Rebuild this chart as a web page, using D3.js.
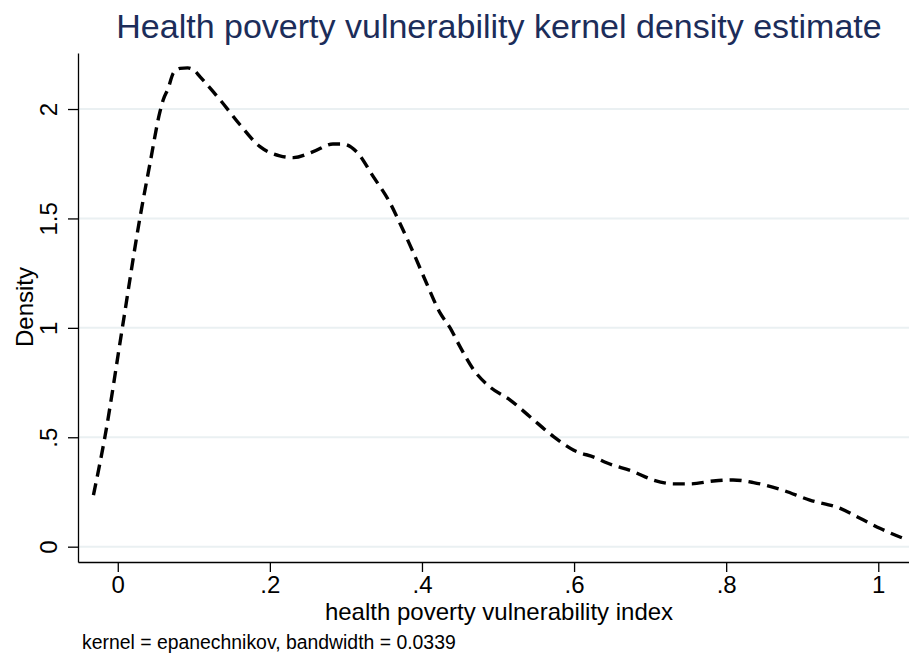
<!DOCTYPE html>
<html>
<head>
<meta charset="utf-8">
<script src="https://cdn.jsdelivr.net/npm/d3@7"></script>
<style>
  html, body { margin: 0; padding: 0; background: #ffffff; }
  svg { display: block; font-family: "Liberation Sans", Arial, Helvetica, sans-serif; }
</style>
</head>
<body>
<svg id="chart" width="909" height="653"></svg>
<script>
// ---- data ----
const xValues = [-0.032, -0.017, 0.006, 0.029, 0.0423, 0.0555, 0.0598, 0.0664, 0.073, 0.0818, 0.092, 0.1, 0.108, 0.135, 0.161, 0.187, 0.213, 0.231, 0.257, 0.283, 0.296, 0.314, 0.336, 0.358, 0.371, 0.389, 0.406, 0.424, 0.437, 0.45, 0.468, 0.489, 0.516, 0.542, 0.573, 0.599, 0.63, 0.641, 0.678, 0.704, 0.731, 0.752, 0.783, 0.809, 0.836, 0.871, 0.91, 0.95, 0.976, 1.002, 1.033];
const densityValues = [0.236, 0.5, 1.0, 1.5, 1.75, 1.988, 2.042, 2.095, 2.164, 2.186, 2.188, 2.178, 2.148, 2.04, 1.927, 1.828, 1.786, 1.778, 1.805, 1.84, 1.84, 1.805, 1.691, 1.571, 1.478, 1.341, 1.204, 1.067, 1.0, 0.914, 0.808, 0.731, 0.670, 0.594, 0.503, 0.442, 0.404, 0.386, 0.343, 0.305, 0.287, 0.287, 0.300, 0.305, 0.293, 0.262, 0.213, 0.175, 0.130, 0.084, 0.038];
const xTicks = [0, 0.2, 0.4, 0.6, 0.8, 1];
const xTickLabels = ["0", ".2", ".4", ".6", ".8", "1"];
const yTicks = [0, 0.5, 1, 1.5, 2];
const yTickLabels = ["0", ".5", "1", "1.5", "2"];
const titleText = "Health poverty vulnerability kernel density estimate";
const xTitle = "health poverty vulnerability index";
const yTitle = "Density";
const noteText = "kernel = epanechnikov, bandwidth = 0.0339";

const points = xValues.map((x, i) => ({x, y: densityValues[i]}));

const svg = d3.select("#chart");

const x = d3.scaleLinear().domain([-0.0523, 1.0404]).range([78, 909]);
const y = d3.scaleLinear().domain([-0.07, 2.256]).range([562, 53]);

// gridlines
svg.append("g").selectAll("line").data(yTicks).join("line")
  .attr("x1", 78).attr("x2", 909)
  .attr("y1", d => y(d)).attr("y2", d => y(d))
  .attr("stroke", "#eaf0f2").attr("stroke-width", 2);

// x axis
const gx = svg.append("g").attr("transform", "translate(0,562)")
  .call(d3.axisBottom(x).tickValues(xTicks).tickSize(10).tickSizeOuter(0)
        .tickFormat((d, i) => xTickLabels[i]));
gx.select(".domain").attr("stroke", "#000").attr("stroke-width", 1.3);
gx.selectAll(".tick line").attr("stroke", "#000").attr("stroke-width", 1.3);
gx.selectAll(".tick text").attr("font-size", 24).attr("fill", "#000")
  .attr("y", 31).attr("dy", 0).attr("font-family", "Liberation Sans, Arial, sans-serif");

// y axis
const gy = svg.append("g").attr("transform", "translate(78,0)")
  .call(d3.axisLeft(y).tickValues(yTicks).tickSize(10).tickSizeOuter(0)
        .tickFormat((d, i) => yTickLabels[i]));
gy.select(".domain").attr("stroke", "#000").attr("stroke-width", 1.3);
gy.selectAll(".tick line").attr("stroke", "#000").attr("stroke-width", 1.3);
gy.selectAll(".tick text").attr("font-size", 24).attr("fill", "#000")
  .attr("font-family", "Liberation Sans, Arial, sans-serif")
  .attr("transform", "rotate(-90)")
  .attr("x", 0).attr("y", -21).attr("dy", 0)
  .attr("text-anchor", "middle");

// density curve
const line = d3.line().x(d => x(d.x)).y(d => y(d.y)).curve(d3.curveMonotoneX);
svg.append("path").datum(points)
  .attr("d", line)
  .attr("fill", "none")
  .attr("stroke", "#000")
  .attr("stroke-width", 3.4)
  .attr("stroke-dasharray", "12,7");

// titles
svg.append("text").attr("x", 499).attr("y", 38)
  .attr("text-anchor", "middle").attr("font-size", 34).attr("fill", "#1c2d5a")
  .text(titleText);

svg.append("text").attr("x", 499).attr("y", 620)
  .attr("text-anchor", "middle").attr("font-size", 24).attr("fill", "#000")
  .text(xTitle);

svg.append("text").attr("transform", "translate(33,307) rotate(-90)")
  .attr("text-anchor", "middle").attr("font-size", 24).attr("fill", "#000")
  .text(yTitle);

svg.append("text").attr("x", 82).attr("y", 649)
  .attr("font-size", 19.4).attr("fill", "#000")
  .text(noteText);
</script>
</body>
</html>
